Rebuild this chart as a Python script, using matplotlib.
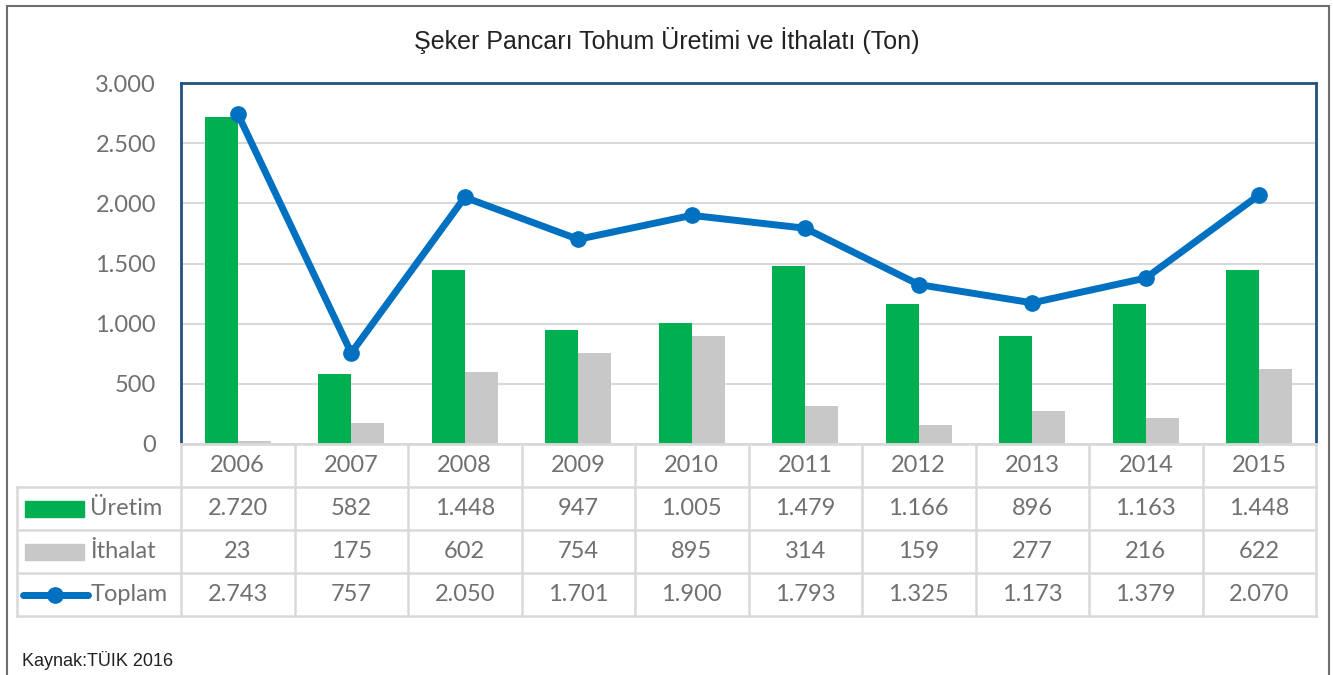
import matplotlib.pyplot as plt
import matplotlib.patches as mpatches
from matplotlib.lines import Line2D

years = ['2006', '2007', '2008', '2009', '2010', '2011', '2012', '2013', '2014', '2015']
uretim = [2720, 582, 1448, 947, 1005, 1479, 1166, 896, 1163, 1448]
ithalat = [23, 175, 602, 754, 895, 314, 159, 277, 216, 622]
toplam = [2743, 757, 2050, 1701, 1900, 1793, 1325, 1173, 1379, 2070]
yticks = [0, 500, 1000, 1500, 2000, 2500, 3000]

GREEN = '#00B050'
GRAY = '#C8C8C8'
BLUE = '#0070C0'
FRAME = '#24527F'
GRID = '#D9D9D9'
TXT = '#707070'
FONT = ['Lato', 'DejaVu Sans']
FS = 17

W, H = 1333, 675


def fmt(v):
    return f'{v:,}'.replace(',', '.')


fig = plt.figure(figsize=(W / 100, H / 100), dpi=100)

# pixel helpers (top-left origin)
def fx(px):
    return px / W


def fy(py):
    return 1 - py / H


L, R, T, B = 181, 1316, 83, 444
ax = fig.add_axes([fx(L), fy(B), fx(R) - fx(L), fy(T) - fy(B)])
x = list(range(len(years)))
bw = 0.29
ax.bar([i - bw / 2 for i in x], uretim, width=bw, color=GREEN, zorder=2)
ax.bar([i + bw / 2 for i in x], ithalat, width=bw, color=GRAY, zorder=2)
ax.plot(x, toplam, color=BLUE, lw=5, marker='o', ms=11, zorder=3)
ax.set_xlim(-0.5, len(years) - 0.5)
ax.set_ylim(0, 3000)
ax.set_yticks(yticks)
ax.set_yticklabels([fmt(v) for v in yticks], color=TXT, fontsize=FS, family=FONT)
ax.set_xticks([])
ax.tick_params(axis='y', length=0, pad=18)
ax.grid(axis='y', color=GRID, lw=1.5, zorder=0)
for s in ['left', 'top', 'right']:
    ax.spines[s].set_color(FRAME)
    ax.spines[s].set_linewidth(2)
ax.spines['bottom'].set_color(GRID)
ax.spines['bottom'].set_linewidth(2)

# title
fig.text(0.5, fy(40), 'Şeker Pancarı Tohum Üretimi ve İthalatı (Ton)', ha='center', va='center',
         fontsize=18, family=['Liberation Sans', 'DejaVu Sans'], color='#222222')

# data table
colw = (R - L) / len(years)
rows = [B, 487, 530, 573, 616]
TL = 17


def hline(y, x0, x1):
    fig.add_artist(Line2D([fx(x0), fx(x1)], [fy(y), fy(y)], color=GRID, lw=1.8))


def vline(xp, y0, y1):
    fig.add_artist(Line2D([fx(xp), fx(xp)], [fy(y0), fy(y1)], color=GRID, lw=1.8))


for y in rows[1:]:
    hline(y, TL, R)
vline(TL, rows[1], rows[-1])
for i in range(len(years) + 1):
    vline(L + i * colw, B, rows[-1])

for i, yr in enumerate(years):
    cx = fx(L + (i + 0.5) * colw)
    fig.text(cx, fy((rows[0] + rows[1]) / 2), yr, ha='center', va='center', fontsize=FS, color=TXT, family=FONT)
    for r, series in enumerate([uretim, ithalat, toplam]):
        cy = fy((rows[r + 1] + rows[r + 2]) / 2)
        fig.text(cx, cy, fmt(series[i]), ha='center', va='center', fontsize=FS, color=TXT, family=FONT)

labels = ['Üretim', 'İthalat', 'Toplam']
for r, lab in enumerate(labels):
    cyp = (rows[r + 1] + rows[r + 2]) / 2
    if r < 2:
        fig.add_artist(mpatches.Rectangle((fx(25), fy(cyp + 8)), fx(84) - fx(25), fy(cyp - 8) - fy(cyp + 8),
                                          color=[GREEN, GRAY][r], transform=fig.transFigure))
        tx = 90
    else:
        fig.add_artist(Line2D([fx(23), fx(88)], [fy(cyp), fy(cyp)], color=BLUE, lw=5,
                              solid_capstyle='round'))
        fig.add_artist(Line2D([fx(55)], [fy(cyp)], color=BLUE, marker='o', ms=11))
        tx = 91
    fig.text(fx(tx), fy(cyp), lab, ha='left', va='center', fontsize=FS, color=TXT, family=FONT)

fig.text(fx(22), fy(660), 'Kaynak:TÜIK 2016', ha='left', va='center', fontsize=13,
         family=['Liberation Sans', 'DejaVu Sans'], color='#222222')

# outer border
fig.add_artist(mpatches.Rectangle((fx(7), fy(700)), fx(1329) - fx(7), fy(6) - fy(700), fill=False,
                                  edgecolor='#6E6E6E', lw=1.5, transform=fig.transFigure))

fig.savefig('out.png', dpi=100)
